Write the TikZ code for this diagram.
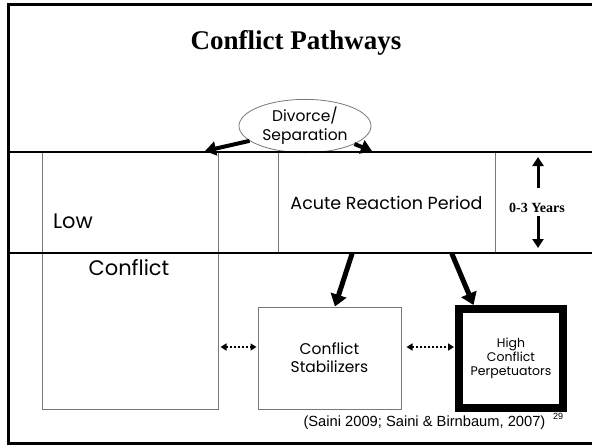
\documentclass[tikz,border=0pt]{standalone}
\usepackage{fontspec}
\setmainfont{Liberation Serif}
\newfontfamily\gothic{Poppins}
\newfontfamily\arial{Liberation Sans}
\usetikzlibrary{shapes}
\usetikzlibrary{arrows.meta}
\definecolor{boxgray}{RGB}{120,120,120}

\begin{document}
\begin{tikzpicture}[x=1pt,y=-1pt]
				\tikzstyle{box}=[rectangle,draw=boxgray,line width=1pt,inner sep=0pt]
				\tikzstyle{lbl}=[inner sep=0pt,font=\gothic\fontsize{21}{24}\selectfont]
				\tikzstyle{fat}=[line width=5pt,-{Triangle[length=12pt,width=16pt]}]
				\tikzstyle{dotarr}=[line width=2pt,dotted,{Triangle[length=6pt,width=7pt]}-{Triangle[length=6pt,width=7pt]}]
				\useasboundingbox (0,0) rectangle (592,445);
				% frame, open on the right
				\draw[line width=3pt] (592,4) -- (8,4) -- (8,443) -- (592,443);
				\node[font=\bfseries\fontsize{27}{30}\selectfont] (title) at (296,43) {Conflict Pathways};
				\node[ellipse,draw=boxgray,line width=0.8pt,minimum width=132pt,minimum height=50pt,inner sep=0pt,align=center,font=\gothic\fontsize{15.5}{19}\selectfont] (div) at (305,126) {Divorce/\\Separation};
				% boxes
				\node[box,minimum width=176pt,minimum height=257pt] (low) at (130,280.5) {};
				\node[lbl] (lowa) at (73,221) {Low};
				\node[lbl] (lowb) at (129,268) {Conflict};
				\node[box,minimum width=217pt,minimum height=101pt,font=\gothic\fontsize{17.5}{20}\selectfont] (acute) at (386.5,202.5) {Acute Reaction Period};
				\node[box,minimum width=143pt,minimum height=102pt,align=center,font=\gothic\fontsize{15.5}{18}\selectfont] (stab) at (329.5,358) {Conflict\\Stabilizers};
				\node[draw,line width=8pt,minimum width=104pt,minimum height=99pt,inner sep=0pt,align=center,font=\gothic\fontsize{12.5}{14}\selectfont] (high) at (511,358.5) {High\\Conflict\\Perpetuators};
				\draw[line width=1.5pt] (8,152) -- (592,152);
				\draw[line width=1.5pt] (8,253) -- (592,253);
				% years
				\node[font=\bfseries\fontsize{14}{15}\selectfont] (yrs) at (537,208) {0-3 Years};
				\coordinate (uptip) at (538,157);
				\coordinate (downtip) at (538,248);
				\draw[line width=3pt,-{Triangle[length=9pt,width=11pt]}] (538,188) -- (uptip);
				\draw[line width=3pt,-{Triangle[length=9pt,width=11pt]}] (538,216) -- (downtip);
				% arrows
				\coordinate (lowtip) at (205,151);
				\coordinate (acutetip) at (372,151);
				\draw[line width=4pt,-{Triangle[length=11pt,width=14pt]}] (div.195) -- (lowtip);
				\draw[line width=4pt,-{Triangle[length=11pt,width=14pt]}] (div.340) -- (acutetip);
				\draw[fat] (acute.236) -- (stab.84);
				\draw[fat] (acute.322) -- (high.125);
				\draw[dotarr,shorten <=2pt,shorten >=1pt] ([yshift=11pt]stab.west -| low.east) -- ([yshift=11pt]stab.west);
				\draw[dotarr,shorten <=5pt,shorten >=1pt] ([yshift=11pt]stab.east) -- ([yshift=11pt]stab.east -| high.west);
				\node[font=\arial\fontsize{14.7}{16}\selectfont,anchor=west] (cite) at (300,423) {(Saini 2009; Saini \& Birnbaum, 2007)};
				\node[font=\arial\fontsize{9}{10}\selectfont] (pg) at (558,416) {29};
\end{tikzpicture}
\end{document}
